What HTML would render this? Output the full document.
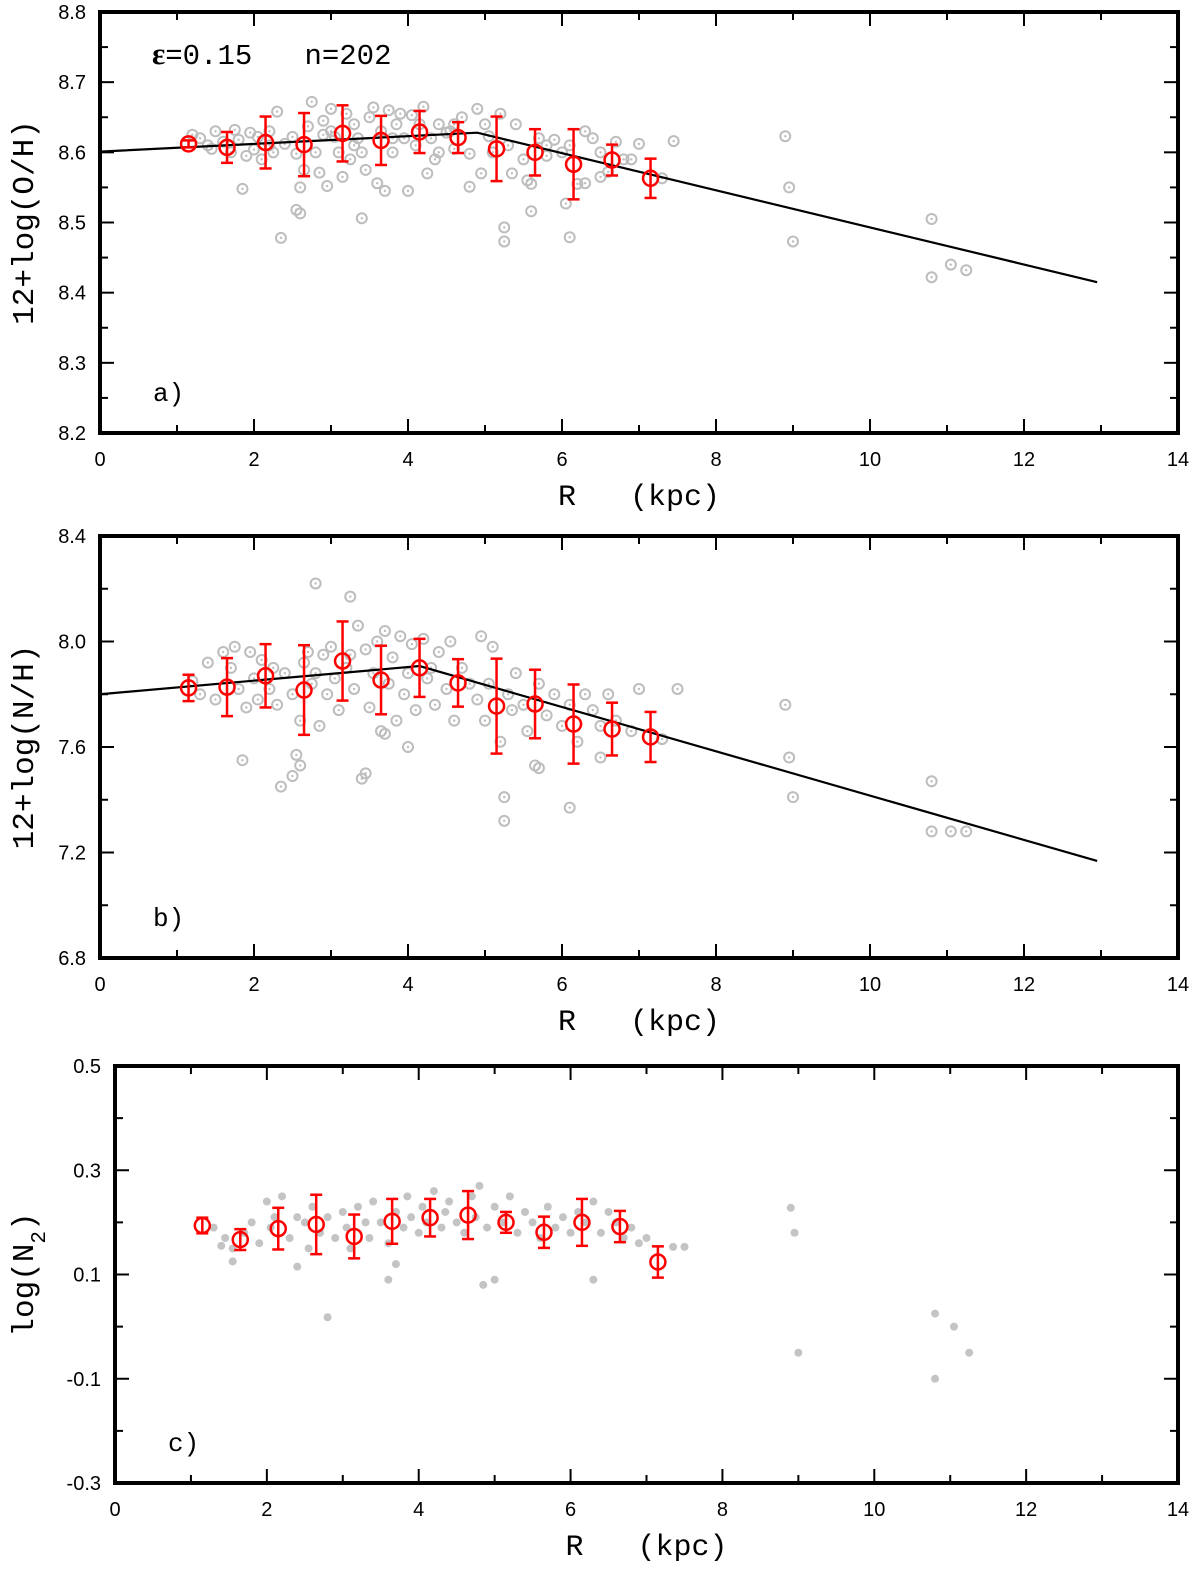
<!DOCTYPE html>
<html><head><meta charset="utf-8"><style>
html,body{margin:0;padding:0;background:#fff;}
svg{display:block;}
.tk{font-family:"Liberation Sans",sans-serif;font-size:20px;fill:#000;}
.mono{font-family:"Liberation Mono",monospace;fill:#000;white-space:pre;}
</style></head><body>
<svg id="fig" width="1200" height="1578" viewBox="0 0 1200 1578" xmlns="http://www.w3.org/2000/svg"></svg>
<script>
// shared bin radii
const binR = [1.15,1.65,2.15,2.65,3.15,3.65,4.15,4.65,5.15,5.65,6.15,6.65,7.15];
// panel a: O/H
const ohMean = [8.612,8.607,8.614,8.611,8.627,8.617,8.629,8.621,8.605,8.600,8.583,8.589,8.563];
const ohErr  = [0.005,0.022,0.037,0.045,0.040,0.035,0.030,0.022,0.046,0.033,0.050,0.022,0.028];
const ohFitR = [0,4.9,12.95];
const ohFitV = [8.601,8.628,8.415];
const ohPtsR = [1.2,1.3,1.4,1.5,1.6,1.7,1.75,1.8,1.9,1.95,2.0,2.05,2.1,2.2,2.25,2.3,2.4,2.5,2.55,2.6,2.65,2.7,2.75,2.8,2.85,2.9,2.95,3.0,3.05,3.1,3.15,3.2,3.25,3.3,3.35,3.4,3.45,3.5,3.55,3.6,3.65,3.7,3.75,3.8,3.85,3.9,3.95,4.0,4.05,4.1,4.15,4.2,4.25,4.3,4.35,4.4,4.5,4.55,4.6,4.7,4.8,4.9,4.95,5.0,5.05,5.1,5.2,5.3,5.35,5.4,5.5,5.55,5.7,5.8,5.9,6.0,6.1,6.2,6.3,6.4,6.5,6.6,6.7,6.9,
1.85,2.35,2.55,2.6,3.4,5.25,5.25,6.1,8.9,8.95,9.0,10.8,10.8,11.05,11.25,7.45,7.0,6.8,7.3,6.5,6.3,6.05,5.6,5.6,4.8,2.2,3.0,3.8,4.4,5.8,1.45,2.9,4.6,3.3];
const ohPtsV = [8.625,8.62,8.61,8.63,8.615,8.6,8.632,8.618,8.595,8.628,8.604,8.622,8.59,8.63,8.6,8.658,8.612,8.622,8.598,8.55,8.575,8.637,8.672,8.6,8.571,8.645,8.552,8.662,8.622,8.6,8.565,8.655,8.59,8.64,8.62,8.6,8.575,8.65,8.664,8.556,8.63,8.545,8.66,8.6,8.64,8.655,8.62,8.545,8.653,8.61,8.64,8.665,8.57,8.62,8.59,8.64,8.628,8.63,8.605,8.65,8.598,8.662,8.57,8.64,8.623,8.6,8.655,8.61,8.57,8.64,8.59,8.56,8.62,8.595,8.618,8.6,8.61,8.555,8.63,8.62,8.6,8.572,8.615,8.59,
8.548,8.478,8.518,8.513,8.506,8.493,8.473,8.479,8.623,8.55,8.473,8.505,8.422,8.44,8.432,8.616,8.612,8.59,8.563,8.565,8.556,8.527,8.516,8.555,8.551,8.61,8.63,8.62,8.6,8.61,8.605,8.625,8.64,8.61];
// panel b: N/H
const nhMean = [7.824,7.827,7.870,7.816,7.926,7.854,7.900,7.843,7.755,7.763,7.687,7.668,7.638];
const nhErr  = [0.05,0.11,0.12,0.17,0.15,0.13,0.11,0.09,0.18,0.13,0.15,0.10,0.095];
const nhFitR = [0,4.15,12.95];
const nhFitV = [7.80,7.907,7.168];
const nhPtsR = [1.2,1.3,1.4,1.5,1.6,1.7,1.75,1.8,1.9,1.95,2.0,2.05,2.1,2.2,2.25,2.3,2.4,2.5,2.6,2.65,2.7,2.75,2.8,2.85,2.9,2.95,3.0,3.05,3.1,3.2,3.25,3.3,3.35,3.45,3.5,3.55,3.6,3.65,3.7,3.75,3.8,3.85,3.9,3.95,4.0,4.05,4.1,4.2,4.25,4.3,4.35,4.4,4.5,4.55,4.6,4.7,4.8,4.9,4.95,5.0,5.05,5.1,5.2,5.3,5.35,5.4,5.5,5.55,5.7,5.8,5.9,6.0,6.1,6.2,6.3,6.4,6.5,6.6,6.7,6.9,
2.35,2.5,2.6,2.55,1.85,2.8,3.25,3.4,3.45,5.25,5.25,6.1,5.7,8.9,8.95,9.0,10.8,10.8,11.05,11.25,7.5,7.0,7.3,6.5,5.65,4.0,3.7];
const nhPtsV = [7.85,7.8,7.92,7.78,7.96,7.9,7.98,7.82,7.75,7.96,7.86,7.78,7.93,7.82,7.9,7.76,7.88,7.8,7.7,7.92,7.96,7.84,7.88,7.68,7.95,7.8,7.98,7.86,7.74,7.9,7.95,7.82,8.06,7.97,7.75,7.88,8.0,7.66,8.04,7.84,7.94,7.7,8.02,7.8,7.88,7.99,7.74,8.01,7.86,7.9,7.76,7.96,7.82,8.0,7.7,7.9,7.84,7.78,8.02,7.7,7.84,7.98,7.62,7.8,7.74,7.88,7.76,7.66,7.84,7.72,7.8,7.68,7.76,7.62,7.8,7.74,7.68,7.8,7.7,7.66,
7.45,7.49,7.53,7.57,7.55,8.22,8.17,7.48,7.5,7.41,7.32,7.37,7.52,7.76,7.56,7.41,7.47,7.28,7.28,7.28,7.82,7.82,7.63,7.56,7.53,7.6,7.65];
// panel c: log(N2)
const n2Mean = [0.194,0.167,0.188,0.196,0.173,0.202,0.209,0.214,0.200,0.181,0.200,0.192,0.124];
const n2Err  = [0.015,0.020,0.040,0.057,0.042,0.043,0.036,0.046,0.020,0.030,0.045,0.030,0.030];
const n2PtsR = [1.3,1.45,1.55,1.7,1.8,1.9,2.0,2.05,2.1,2.2,2.3,2.4,2.5,2.55,2.6,2.7,2.8,2.9,3.0,3.05,3.1,3.2,3.3,3.35,3.4,3.5,3.6,3.7,3.8,3.85,3.9,4.0,4.05,4.1,4.2,4.3,4.35,4.4,4.5,4.6,4.7,4.75,4.8,4.9,5.0,5.1,5.2,5.3,5.4,5.5,5.6,5.7,5.8,5.9,6.0,6.1,6.2,6.3,6.4,6.5,6.6,6.7,6.8,6.9,7.0,
2.8,8.9,8.95,9.0,10.8,10.8,11.05,11.25,7.5,7.35,5.0,4.85,3.6,6.3,1.55,1.4,2.4,3.7];
const n2PtsV = [0.19,0.17,0.15,0.18,0.2,0.16,0.24,0.19,0.21,0.25,0.17,0.21,0.2,0.15,0.23,0.18,0.21,0.17,0.22,0.19,0.15,0.23,0.2,0.17,0.24,0.2,0.16,0.22,0.19,0.25,0.21,0.18,0.23,0.2,0.26,0.19,0.22,0.24,0.2,0.18,0.25,0.21,0.27,0.19,0.23,0.2,0.25,0.18,0.22,0.2,0.17,0.23,0.19,0.21,0.18,0.22,0.2,0.24,0.18,0.22,0.2,0.17,0.19,0.16,0.17,
0.018,0.228,0.18,-0.05,0.025,-0.1,0.0,-0.05,0.153,0.153,0.09,0.08,0.09,0.09,0.125,0.155,0.115,0.12];

const NS='http://www.w3.org/2000/svg';
const svg=document.getElementById('fig');
function mk(tag,attrs,parent){const e=document.createElementNS(NS,tag);for(const k in attrs)e.setAttribute(k,attrs[k]);(parent||svg).appendChild(e);return e;}

function panel(cfg){
  const g=mk('g',{});
  
  
  const sx=v=>cfg.L+(v-0)/(14-0)*(cfg.R-cfg.L);
  const sy=v=>cfg.B-(v-cfg.y0)/(cfg.y1-cfg.y0)*(cfg.B-cfg.T);
  for(let k=0;k<=14;k++){
    const x=sx(k),len=(k%2===0)?14:8;
    mk('line',{x1:x,y1:cfg.B,x2:x,y2:cfg.B-len,stroke:'#000','stroke-width':2},g);
    mk('line',{x1:x,y1:cfg.T,x2:x,y2:cfg.T+len,stroke:'#000','stroke-width':2},g);
    if(k%2===0){const t=mk('text',{x:x,y:cfg.B+33,'text-anchor':'middle',class:'tk'},g);t.textContent=String(k);
      
      }
  }
  const nMin=Math.round((cfg.y1-cfg.y0)/cfg.minor);
  for(let k=0;k<=nMin;k++){
    const v=cfg.y0+k*cfg.minor,y=sy(v),maj=(k%2===0),len=maj?14:8;
    mk('line',{x1:cfg.L,y1:y,x2:cfg.L+len,y2:y,stroke:'#000','stroke-width':2},g);
    mk('line',{x1:cfg.R,y1:y,x2:cfg.R-len,y2:y,stroke:'#000','stroke-width':2},g);
    if(maj){const t=mk('text',{x:cfg.L-14,y:y+7,'text-anchor':'end',class:'tk'},g);t.textContent=v.toFixed(1);
      
      }
  }
  for(let i=0;i<cfg.pr.length;i++){
    const x=sx(cfg.pr[i]),y=sy(cfg.pv[i]);
    if(cfg.hollow){
      const c=mk('circle',{cx:x,cy:y,r:5,fill:'none',stroke:'#bdbdbd','stroke-width':2},g);
      
      
      mk('circle',{cx:x,cy:y,r:1.2,fill:'#bdbdbd'},g);
    } else {
      const c=mk('circle',{cx:x,cy:y,r:4,fill:'#c4c4c4'},g);
      
      
    }
  }
  if(cfg.fr){
    const pts=cfg.fr.map((r,i)=>sx(r)+','+sy(cfg.fv[i])).join(' ');
    const pl=mk('polyline',{points:pts,fill:'none',stroke:'#000','stroke-width':2.2},g);
    
    
  }
  for(let i=0;i<binR.length;i++){
    const x=sx(binR[i]),y=sy(cfg.m[i]),y1=sy(cfg.m[i]+cfg.e[i]),y2=sy(cfg.m[i]-cfg.e[i]);
    const gg=mk('g',{stroke:'#f00','stroke-width':2.5,fill:'none'},g);
    
    
    mk('line',{x1:x,y1:y1,x2:x,y2:y2},gg);
    mk('line',{x1:x-6,y1:y1,x2:x+6,y2:y1},gg);
    mk('line',{x1:x-6,y1:y2,x2:x+6,y2:y2},gg);
    mk('circle',{cx:x,cy:y,r:7.5},gg);
  }
  const fr=mk('rect',{x:cfg.L,y:cfg.T,width:cfg.R-cfg.L,height:cfg.B-cfg.T,fill:'none',stroke:'#000','stroke-width':4},g);
  
  
  const lab=mk('text',{x:cfg.L+53,y:cfg.B-32,class:'mono','font-size':26},g);lab.textContent=cfg.label;
  
  
  const xl=mk('text',{x:(cfg.L+cfg.R)/2+0,y:cfg.B+72,'text-anchor':'middle',class:'mono','font-size':30},g);xl.textContent='R   (kpc)';
  
  
  const cy=(cfg.T+cfg.B)/2;
  const yl=mk('text',{x:0,y:0,'text-anchor':'middle',class:'mono','font-size':31,transform:`translate(33,${cy}) rotate(-90)`},g);
  yl.innerHTML=cfg.ytitle;
  
  
}

panel({name:'panel-a-oh',L:100,R:1178,T:12,B:433,y0:8.2,y1:8.8,minor:0.05,pr:ohPtsR,pv:ohPtsV,hollow:true,fr:ohFitR,fv:ohFitV,m:ohMean,e:ohErr,label:'a)',ytitle:'12+log(O/H)'});
panel({name:'panel-b-nh',L:100,R:1178,T:536,B:958,y0:6.8,y1:8.4,minor:0.2,pr:nhPtsR,pv:nhPtsV,hollow:true,fr:nhFitR,fv:nhFitV,m:nhMean,e:nhErr,label:'b)',ytitle:'12+log(N/H)'});
panel({name:'panel-c-n2',L:115,R:1178,T:1066,B:1483,y0:-0.3,y1:0.5,minor:0.1,pr:n2PtsR,pv:n2PtsV,hollow:false,fr:null,m:n2Mean,e:n2Err,label:'c)',ytitle:'log(N<tspan baseline-shift="sub" font-size="21">2</tspan>)'});

const ann=mk('text',{x:152,y:64,class:'mono','font-size':29});
ann.innerHTML='<tspan font-family="Liberation Serif,serif" font-weight="bold" font-size="31">ε</tspan>=0.15   n=202';


</script>
</body></html>
